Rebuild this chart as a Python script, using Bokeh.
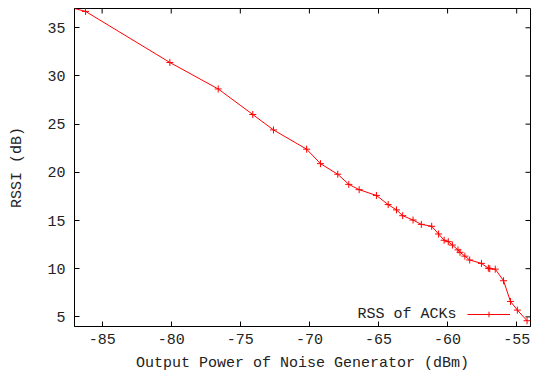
from bokeh.plotting import figure
from bokeh.models import Range1d, FixedTicker, Legend, LegendItem, Label
from bokeh.embed import file_html
from bokeh.resources import INLINE

# Data
power_dbm = [-89.0, -86.2, -80.1, -76.6, -74.1, -72.6, -70.2, -69.2, -67.95, -67.15,
             -66.4, -65.15, -64.3, -63.7, -63.25, -62.5, -61.9, -61.15, -60.65, -60.25,
             -59.95, -59.65, -59.25, -59.1, -58.75, -58.4, -57.55, -57.05, -56.95, -56.55,
             -55.95, -55.45, -54.95, -54.25]
rssi_db = [37.75, 36.7, 31.4, 28.65, 26.0, 24.4, 22.4, 20.9, 19.8, 18.75,
           18.2, 17.6, 16.65, 16.1, 15.5, 15.05, 14.6, 14.4, 13.6, 12.95,
           12.8, 12.45, 11.95, 11.7, 11.3, 10.9, 10.55, 10.05, 10.0, 9.95,
           8.75, 6.6, 5.7, 4.6]
x_ticks = [-85, -80, -75, -70, -65, -60, -55]
y_ticks = [5, 10, 15, 20, 25, 30, 35]
x_lo, x_hi = -87, -54
y_lo, y_hi = 4, 37
series_name = "RSS of ACKs"

FONT = "Liberation Mono"
FS = "15px"
TXT = "#222222"

W, H = 533, 374
BL, BR, BT, BB = 74, 3, 8, 48
FW, FH = W - BL - BR, H - BT - BB

p = figure(width=W, height=H, output_backend="svg", toolbar_location=None,
           x_range=Range1d(x_lo, x_hi), y_range=Range1d(y_lo, y_hi),
           min_border_left=BL, min_border_right=BR, min_border_top=BT, min_border_bottom=BB,
           background_fill_color="white", border_fill_color="white")
p.grid.visible = False
p.outline_line_color = "black"
p.outline_line_width = 1

for ax, ticks in ((p.xaxis[0], x_ticks), (p.yaxis[0], y_ticks)):
    ax.ticker = FixedTicker(ticks=ticks)
    ax.major_tick_in = 5
    ax.major_tick_out = 0
    ax.minor_tick_line_color = None
    ax.axis_line_color = "black"
    ax.major_tick_line_color = "black"
    ax.major_label_text_font = FONT
    ax.major_label_text_font_size = FS
    ax.major_label_text_color = TXT
    ax.axis_label_text_font = FONT
    ax.axis_label_text_font_size = FS
    ax.axis_label_text_font_style = "normal"
    ax.axis_label_text_color = TXT

p.xaxis[0].axis_label = "Output Power of Noise Generator (dBm)"
p.yaxis[0].axis_label = "RSSI (dB)"
p.xaxis[0].major_label_standoff = 7
p.xaxis[0].axis_label_standoff = 8
p.yaxis[0].major_label_standoff = 9
p.yaxis[0].axis_label_standoff = 18
p.xaxis[0].major_label_overrides = {t: "-%d" % abs(t) for t in x_ticks}

# mirrored inward ticks on the top and right frame edges (5 px long)
dy = 5 * (y_hi - y_lo) / FH
dx = 5 * (x_hi - x_lo) / FW
p.segment(x0=x_ticks, y0=[y_hi] * len(x_ticks), x1=x_ticks, y1=[y_hi - dy] * len(x_ticks),
          line_color="black", line_width=1)
p.segment(x0=[x_hi] * len(y_ticks), y0=y_ticks, x1=[x_hi - dx] * len(y_ticks), y1=y_ticks,
          line_color="black", line_width=1)

ln = p.line(power_dbm, rssi_db, line_color="red", line_width=1)
sc = p.scatter(power_dbm, rssi_db, marker="cross", size=7, line_color="red", line_width=1)

legend = Legend(items=[LegendItem(label=" ", renderers=[ln, sc])],
                location=(FW - 63, 5), margin=0, padding=0, spacing=0,
                glyph_width=43, glyph_height=14, label_standoff=0,
                label_text_font_size="10px", label_width=0, label_height=0,
                border_line_alpha=0, background_fill_alpha=0)
p.add_layout(legend, "center")

p.add_layout(Label(x=x_hi - 74 * (x_hi - x_lo) / FW, y=y_lo + 12 * (y_hi - y_lo) / FH,
                   text=series_name, text_align="right",
                   text_baseline="middle", text_font=FONT, text_font_size=FS,
                   text_color=TXT))

open("out.html", "w").write(file_html(p, INLINE))
